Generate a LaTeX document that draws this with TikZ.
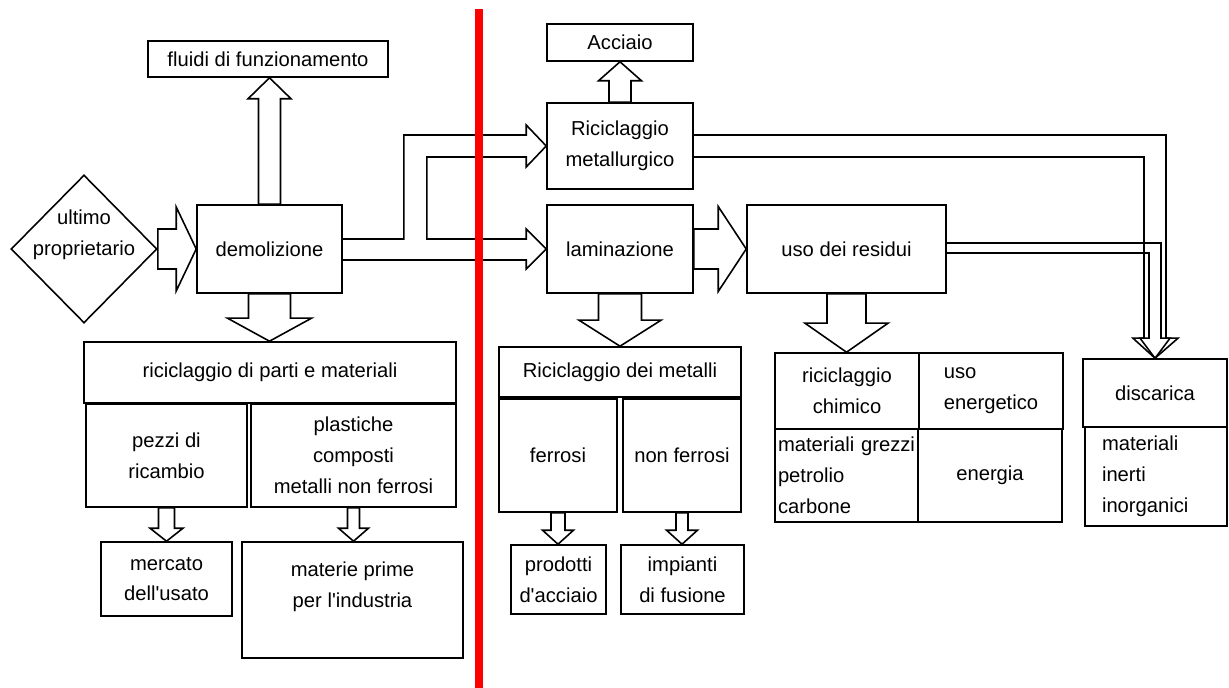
\documentclass[tikz,border=0pt]{standalone}
\usepackage{fontspec}
\setmainfont{Liberation Sans}
\usetikzlibrary{calc,shapes.geometric}
\newcommand{\pxu}{0.02cm}
\newcommand{\fatdown}[5]{%
  \draw[fat] ($(#1.south)+(-#3,0)$) -- ($(#1.south |- #2.north)+(-#3,-#5)$) -- ++(#3-#4,0)
    -- (#1.south |- #2.north) -- ($(#1.south |- #2.north)+(#4,-#5)$) -- ++(#3-#4,0) -- ($(#1.south)+(#3,0)$) -- cycle;}
\newcommand{\fatup}[5]{%
  \draw[fat] ($(#1.north)+(-#3,0)$) -- ($(#1.north |- #2.south)+(-#3,#5)$) -- ++(#3-#4,0)
    -- (#1.north |- #2.south) -- ($(#1.north |- #2.south)+(#4,#5)$) -- ++(#3-#4,0) -- ($(#1.north)+(#3,0)$) -- cycle;}
\newcommand{\fatright}[5]{%
  \draw[fat] ($(#1.east)+(0,-#3)$) -- ($(#1.east -| #2.west)+(-#5,-#3)$) -- ++(0,#3-#4)
    -- (#1.east -| #2.west) -- ($(#1.east -| #2.west)+(-#5,#4)$) -- ++(0,#3-#4) -- ($(#1.east)+(0,#3)$) -- cycle;}
\tikzset{
  txt/.style={font=\fontsize{11.5}{17.5}\selectfont},
  box/.style 2 args={draw, line width=0.9pt, txt, minimum width=#1*\pxu, minimum height=#2*\pxu,
    inner sep=1pt, align=center},
  fat/.style={draw, fill=white, line width=0.9pt, line join=miter},
  pipe/.style={draw, line width=0.9pt, line join=miter},
  divider/.style={draw=red, line width=0.16cm}
}

\begin{document}
\begin{tikzpicture}[x=0.02cm, y=-0.02cm]
  \useasboundingbox (0,0) rectangle (1229,688);
  \node[box={240}{36}] (fluidi) at (268,59) {fluidi di funzionamento};
  \node[draw, diamond, line width=0.9pt, minimum width=146*\pxu, minimum height=148*\pxu, inner sep=0pt,
    label={[txt, align=center, yshift=14*\pxu]center:ultimo\\proprietario}] (owner) at (84,249) {};
  \node[box={145}{88}] (demol) at (269.5,249) {demolizione};
  \node[box={372}{61}] (parti) at (270,372.5) {riciclaggio di parti e materiali};
  \node[box={161}{103}] (pezzi) at (166.5,455.5) {pezzi di\\ricambio};
  \node[box={205}{103}] (plast) at (353.5,455.5) {plastiche\\composti\\metalli non ferrosi};
  \node[box={131}{74}] (usato) at (166.5,579) {mercato\\dell\textquotesingle usato};
  \node[box={221}{116}] (prime) at (352.5,600) {materie prime\\per l\textquotesingle industria\\~};
  \node[box={146}{37}] (acciaio) at (620,42.5) {Acciaio};
  \node[box={146}{86}] (metallurg) at (620,146) {Riciclaggio\\metallurgico};
  \node[box={146}{88}] (lamin) at (620,249) {laminazione};
  \node[box={199}{88}] (residui) at (846.5,249) {uso dei residui};
  \node[box={242}{50}] (metalli) at (620,372) {Riciclaggio dei metalli};
  \node[box={118}{113}] (ferrosi) at (558,455.5) {ferrosi};
  \node[box={118}{113}] (nonferrosi) at (682,455.5) {non ferrosi};
  \node[box={95}{69}] (prodotti) at (558.5,579.5) {prodotti\\d\textquotesingle acciaio};
  \node[box={123}{69}] (impianti) at (682.5,579.5) {impianti\\di fusione};
  \node[box={144}{76}] (chimico) at (847,391) {riciclaggio\\chimico};
  \node[box={144}{76}, align=left] (energetico) at (991,391) {uso\\energetico};
  \node[box={143}{93}, text width=137*\pxu, align=left] (grezzi) at (846.5,475.5) {materiali grezzi\\petrolio\\carbone};
  \node[box={144}{93}] (energia) at (990,475.5) {energia};
  \node[box={144}{68}] (discarica) at (1155,393) {discarica};
  \node[box={142}{99}, text width=108*\pxu, align=left] (inerti) at (1156,476.5) {materiali\\inerti\\inorganici};

  \fatright{owner}{demol}{20}{42}{20}
  \fatup{demol}{fluidi}{11}{21.5}{21}
  \fatdown{demol}{parti}{21}{42}{23}
  \fatdown{pezzi}{usato}{8}{16.5}{13}
  \fatdown{plast}{prime}{6}{15}{13}
  \fatup{metallurg}{acciaio}{11}{21.5}{19}
  \fatright{lamin}{residui}{20}{42.5}{28}
  \fatdown{lamin}{metalli}{21.5}{41}{26}
  \fatdown{residui}{chimico}{19.5}{41.5}{29}
  \fatdown{ferrosi}{prodotti}{7}{15.5}{14}
  \fatdown{nonferrosi}{impianti}{6}{15.5}{14}

  \draw[pipe] ($(demol.east)+(0,-10)$) -- ++(61,0) |- ($(metallurg.west)+(-20,-11)$) -- ++(0,-10)
    -- (metallurg.west) -- ($(metallurg.west)+(-20,21)$) -- ++(0,-10) -| ($(demol.east)+(84,-10)$)
    -- ($(lamin.west)+(-20,-10)$) -- ++(0,-10) -- (lamin.west) -- ($(lamin.west)+(-20,20)$)
    -- ++(0,-9) -- ($(demol.east)+(0,11)$);
  \draw[pipe] ($(metallurg.east)+(0,-11)$) -| ($(discarica.north)+(11,-20)$) -- ++(12,0)
    -- (discarica.north) -- ($(discarica.north)+(-22,-20)$) -- ++(11,0) |- ($(metallurg.east)+(0,11)$);
  \draw[pipe] ($(residui.east)+(0,-6)$) -| ($(discarica.north)+(6,-20)$) -- ++(9,0)
    -- (discarica.north) -- ($(discarica.north)+(-15,-20)$) -- ++(9,0) |- ($(residui.east)+(0,4)$);

  \draw[divider] (479,9) -- (479,688);
\end{tikzpicture}
\end{document}
